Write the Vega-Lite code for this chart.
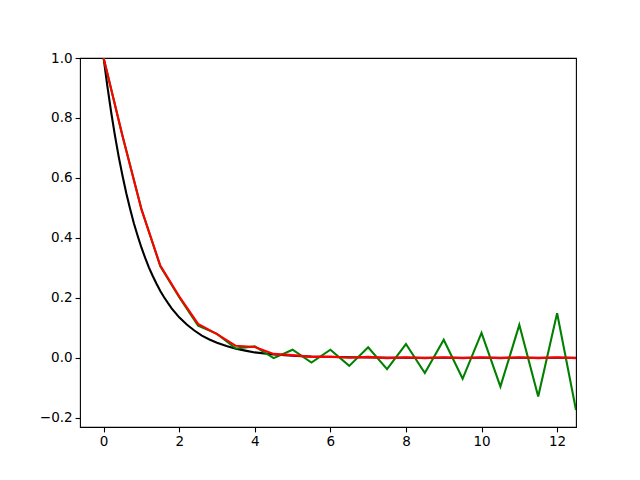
{
  "$schema": "https://vega.github.io/schema/vega-lite/v6.json",
  "width": 496,
  "height": 369,
  "autosize": {"type": "none"},
  "padding": {"left": 80, "top": 58, "right": 64, "bottom": 53},
  "background": "white",
  "config": {
    "view": {"stroke": "black", "strokeWidth": 1.1},
    "axis": {
      "grid": false,
      "domain": false,
      "tickColor": "black",
      "tickWidth": 1.1,
      "tickSize": 4.9,
      "labelColor": "black",
      "labelFont": "DejaVu Sans",
      "labelFontSize": 13.5,
      "labelPadding": 3,
      "title": null
    }
  },
  "data": {
    "values": [
      {"t": 0, "v": 1, "s": "exact"},
      {"t": 0.1, "v": 0.905, "s": "exact"},
      {"t": 0.2, "v": 0.819, "s": "exact"},
      {"t": 0.3, "v": 0.741, "s": "exact"},
      {"t": 0.4, "v": 0.670, "s": "exact"},
      {"t": 0.5, "v": 0.607, "s": "exact"},
      {"t": 0.6, "v": 0.549, "s": "exact"},
      {"t": 0.7, "v": 0.497, "s": "exact"},
      {"t": 0.8, "v": 0.449, "s": "exact"},
      {"t": 0.9, "v": 0.407, "s": "exact"},
      {"t": 1.0, "v": 0.368, "s": "exact"},
      {"t": 1.1, "v": 0.333, "s": "exact"},
      {"t": 1.2, "v": 0.301, "s": "exact"},
      {"t": 1.3, "v": 0.273, "s": "exact"},
      {"t": 1.4, "v": 0.247, "s": "exact"},
      {"t": 1.5, "v": 0.223, "s": "exact"},
      {"t": 1.6, "v": 0.202, "s": "exact"},
      {"t": 1.7, "v": 0.183, "s": "exact"},
      {"t": 1.8, "v": 0.165, "s": "exact"},
      {"t": 1.9, "v": 0.150, "s": "exact"},
      {"t": 2.0, "v": 0.135, "s": "exact"},
      {"t": 2.2, "v": 0.111, "s": "exact"},
      {"t": 2.4, "v": 0.091, "s": "exact"},
      {"t": 2.6, "v": 0.074, "s": "exact"},
      {"t": 2.8, "v": 0.061, "s": "exact"},
      {"t": 3.0, "v": 0.050, "s": "exact"},
      {"t": 3.25, "v": 0.039, "s": "exact"},
      {"t": 3.5, "v": 0.030, "s": "exact"},
      {"t": 3.75, "v": 0.024, "s": "exact"},
      {"t": 4.0, "v": 0.018, "s": "exact"},
      {"t": 4.5, "v": 0.011, "s": "exact"},
      {"t": 5.0, "v": 0.007, "s": "exact"},
      {"t": 5.5, "v": 0.004, "s": "exact"},
      {"t": 6.0, "v": 0.0025, "s": "exact"},
      {"t": 7.0, "v": 0.001, "s": "exact"},
      {"t": 8.0, "v": 0.0003, "s": "exact"},
      {"t": 10.0, "v": 0.00005, "s": "exact"},
      {"t": 12.5, "v": 0.0, "s": "exact"},

      {"t": 0, "v": 1, "s": "green"},
      {"t": 0.5, "v": 0.74, "s": "green"},
      {"t": 1.0, "v": 0.497, "s": "green"},
      {"t": 1.5, "v": 0.305, "s": "green"},
      {"t": 2.0, "v": 0.202, "s": "green"},
      {"t": 2.5, "v": 0.107, "s": "green"},
      {"t": 3.0, "v": 0.080, "s": "green"},
      {"t": 3.5, "v": 0.031, "s": "green"},
      {"t": 4.0, "v": 0.038, "s": "green"},
      {"t": 4.5, "v": -0.001, "s": "green"},
      {"t": 5.0, "v": 0.027, "s": "green"},
      {"t": 5.5, "v": -0.016, "s": "green"},
      {"t": 6.0, "v": 0.027, "s": "green"},
      {"t": 6.5, "v": -0.027, "s": "green"},
      {"t": 7.0, "v": 0.035, "s": "green"},
      {"t": 7.5, "v": -0.038, "s": "green"},
      {"t": 8.0, "v": 0.046, "s": "green"},
      {"t": 8.5, "v": -0.051, "s": "green"},
      {"t": 9.0, "v": 0.060, "s": "green"},
      {"t": 9.5, "v": -0.070, "s": "green"},
      {"t": 10.0, "v": 0.083, "s": "green"},
      {"t": 10.5, "v": -0.096, "s": "green"},
      {"t": 11.0, "v": 0.110, "s": "green"},
      {"t": 11.5, "v": -0.129, "s": "green"},
      {"t": 12.0, "v": 0.149, "s": "green"},
      {"t": 12.5, "v": -0.174, "s": "green"},

      {"t": 0, "v": 1, "s": "red"},
      {"t": 0.5, "v": 0.74, "s": "red"},
      {"t": 1.0, "v": 0.495, "s": "red"},
      {"t": 1.5, "v": 0.308, "s": "red"},
      {"t": 2.0, "v": 0.205, "s": "red"},
      {"t": 2.5, "v": 0.113, "s": "red"},
      {"t": 3.0, "v": 0.079, "s": "red"},
      {"t": 3.5, "v": 0.040, "s": "red"},
      {"t": 4.0, "v": 0.036, "s": "red"},
      {"t": 4.5, "v": 0.013, "s": "red"},
      {"t": 5.0, "v": 0.009, "s": "red"},
      {"t": 5.5, "v": 0.003, "s": "red"},
      {"t": 6.0, "v": 0.004, "s": "red"},
      {"t": 6.5, "v": 0.0, "s": "red"},
      {"t": 7.0, "v": 0.003, "s": "red"},
      {"t": 7.5, "v": -0.001, "s": "red"},
      {"t": 8.0, "v": 0.002, "s": "red"},
      {"t": 8.5, "v": -0.001, "s": "red"},
      {"t": 9.0, "v": 0.002, "s": "red"},
      {"t": 9.5, "v": -0.001, "s": "red"},
      {"t": 10.0, "v": 0.002, "s": "red"},
      {"t": 10.5, "v": -0.001, "s": "red"},
      {"t": 11.0, "v": 0.002, "s": "red"},
      {"t": 11.5, "v": -0.001, "s": "red"},
      {"t": 12.0, "v": 0.002, "s": "red"},
      {"t": 12.5, "v": -0.001, "s": "red"}
    ]
  },
  "mark": {"type": "line", "strokeWidth": 2.1, "clip": true},
  "encoding": {
    "x": {
      "field": "t",
      "type": "quantitative",
      "scale": {"domain": [-0.625, 12.5], "nice": false, "zero": false},
      "axis": {"values": [0, 2, 4, 6, 8, 10, 12], "format": "d"}
    },
    "y": {
      "field": "v",
      "type": "quantitative",
      "scale": {"domain": [-0.2308, 1.0], "nice": false, "zero": false},
      "axis": {"values": [-0.2, 0, 0.2, 0.4, 0.6, 0.8, 1.0], "format": ".1f"}
    },
    "color": {
      "field": "s",
      "type": "nominal",
      "scale": {"domain": ["exact", "green", "red"], "range": ["#000000", "#008000", "#ff0000"]},
      "legend": null
    },
    "order": {"field": "t", "type": "quantitative"},
    "detail": {"field": "s"}
  }
}
